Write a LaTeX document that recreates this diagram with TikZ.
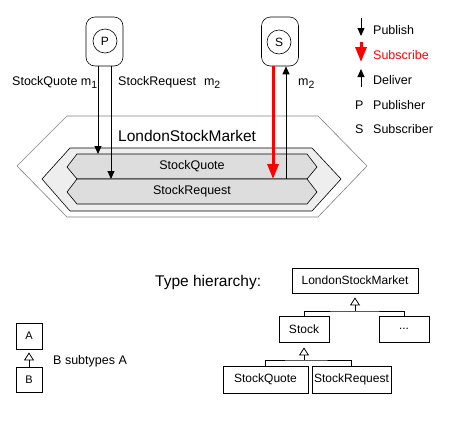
\documentclass[tikz,border=0pt]{standalone}
\usepackage{fontspec}
\setmainfont{Liberation Sans}
\usetikzlibrary{arrows.meta}

\definecolor{hexlight}{HTML}{EEEEEE}
\definecolor{hexdark}{HTML}{DDDDDD}

\newcommand{\msub}[1]{\raisebox{-3.5pt}{\fontsize{10.5}{12}\selectfont #1}}

\tikzstyle{element}=[rectangle, draw, line width=0.8, inner sep=0pt,
                     font=\fontsize{12}{14}\selectfont]
\tikzstyle{client}=[rectangle, draw, line width=0.6, rounded corners=9pt,
                    minimum width=37pt, minimum height=49pt]
\tikzstyle{role}=[circle, draw, line width=0.6, minimum size=24pt, inner sep=0pt,
                  font=\fontsize{12}{14}\selectfont]
\tikzstyle{txt}=[inner sep=0pt, anchor=base west, font=\fontsize{12.5}{15}\selectfont]
\tikzstyle{bigtxt}=[inner sep=0pt, anchor=base west, font=\fontsize{15.5}{18}\selectfont]
\tikzstyle{pub}=[-{Triangle[length=8pt,width=7pt]}, line width=1]
\tikzstyle{sub}=[-{Triangle[length=15pt,width=11pt]}, line width=3, red]
\tikzstyle{subtype}=[-{Triangle[open,length=8pt,width=10pt]}, line width=0.8,
                     shorten >=4pt]

\begin{document}
\begin{tikzpicture}[x=1pt, y=-1pt]
  \useasboundingbox (0,0) rectangle (473,429);

  %%%%%%%%%%%%%%%%%%%%%%%%%%%%%%
  %%%%%%%%%%%%%%%%%%%%%%%%%%%%%%
  % market

  %%%%%%%%%%%%%%%%%%%%%%%%%%%%%%
  % hexagons
  \draw[gray, line width=0.6] (67,116) -- (318,116) -- (367,166) -- (318,217)
       -- (67,217) -- (17,166) -- cycle;
  \draw[fill=hexlight, line width=0.6] (70,148) -- (312,148) -- (341,179)
       -- (312,211) -- (70,211) -- (42,179) -- cycle;
  \draw[fill=hexdark, line width=0.6] (77,154) -- (307,154) -- (317,167)
       -- (307,179) -- (77,179) -- (67,167) -- cycle;
  \draw[fill=hexdark, line width=0.6] (77,179) -- (307,179) -- (317,192)
       -- (307,204) -- (77,204) -- (67,192) -- cycle;

  \node (market) at (118,141) [bigtxt] {LondonStockMarket};
  \node (quote) at (192,166) [txt, anchor=center] {StockQuote};
  \node (request) at (192,191) [txt, anchor=center] {StockRequest};

  %%%%%%%%%%%%%%%%%%%%%%%%%%%%%%
  % clients
  \node (pub) at (104.5,41.5) [client] {};
  \node (pub_c) at (105,41) [role] {P};

  \node (sub) at (280,41.5) [client] {};
  \node (sub_c) at (279,42) [role] {S};

  \node (m_quote) at (12,85) [txt] {StockQuote m\msub{1}};
  \node (m_request) at (118,85) [txt] {StockRequest\hspace{8pt}m\msub{2}};
  \node (m_deliver) at (298,85) [txt] {m\msub{2}};

  %%%%%%%%%%%%%%%%%%%%%%%%%%%%%%
  % links
  \coordinate (quote_in) at (98,154);
  \coordinate (request_in) at (111,179);
  \coordinate (sub_in) at (273,179);
  \coordinate (deliver_out) at (286,179);

  \draw [pub] (pub.south -| quote_in) to (quote_in);

  \draw [pub] (pub.south -| request_in) to (request_in);

  \draw [sub] (sub.south -| sub_in) to (sub_in);

  \draw [pub] (deliver_out) to (sub.south -| deliver_out);

  %%%%%%%%%%%%%%%%%%%%%%%%%%%%%%
  % legends
  \coordinate (leg_pub_a) at (361,18);
  \coordinate (leg_pub_b) at (361,36);
  \coordinate (leg_sub_a) at (361,42);
  \coordinate (leg_sub_b) at (361,62);
  \coordinate (leg_del_a) at (361,87);
  \coordinate (leg_del_b) at (361,69);

  \draw [pub] (leg_pub_a) to (leg_pub_b);
  \draw [sub] (leg_sub_a) to (leg_sub_b);
  \draw [pub] (leg_del_a) to (leg_del_b);

  \node (leg_pub) at (373,34) [txt] {Publish};
  \node (leg_sub) at (373,59) [txt, red] {Subscribe};
  \node (leg_del) at (373,84) [txt] {Deliver};
  \node (leg_p) at (355,109) [txt] {P};
  \node (leg_publisher) at (373,109) [txt] {Publisher};
  \node (leg_s) at (355,133) [txt] {S};
  \node (leg_subscriber) at (373,133) [txt] {Subscriber};

  %%%%%%%%%%%%%%%%%%%%%%%%%%%%%%
  %%%%%%%%%%%%%%%%%%%%%%%%%%%%%%
  % type hierarchy
  \node (hier) at (155,286) [bigtxt] {Type hierarchy:};

  \node (lsm) at (355,280.5) [element, minimum width=126pt, minimum height=25pt] {LondonStockMarket};

  \node (stock) at (304,329) [element, minimum width=50pt, minimum height=26pt] {Stock};

  \node (dots) at (404,329) [element, minimum width=50pt, minimum height=26pt] {...};

  \node (t_quote) at (265.5,379.5) [element, minimum width=85pt, minimum height=27pt] {StockQuote};

  \node (t_request) at (351.5,379.5) [element, minimum width=79pt, minimum height=27pt] {StockRequest};

  \coordinate (lsm_join) at (355,311);
  \coordinate (stock_join) at (304,360);

  \draw [line width=0.8] (stock.north) |- (lsm_join) -| (dots.north);
  \draw [subtype] (lsm_join) to (lsm.south);

  \draw [line width=0.8] (t_quote.north) |- (stock_join) -| (t_request.north);
  \draw [subtype, shorten >=5pt] (stock_join) to (stock.south);

  %%%%%%%%%%%%%%%%%%%%%%%%%%%%%%
  % subtype legend
  \node (a) at (29,336) [element, minimum width=26pt, minimum height=26pt, font=\fontsize{11}{13}\selectfont] {A};
  \node (b) at (29,379.5) [element, minimum width=26pt, minimum height=25pt, font=\fontsize{11}{13}\selectfont] {B};
  \draw [subtype, shorten >=3pt] (b.north) to (a.south);
  \node (b_sub_a) at (53,364) [txt] {B subtypes A};

\end{tikzpicture}
\end{document}
